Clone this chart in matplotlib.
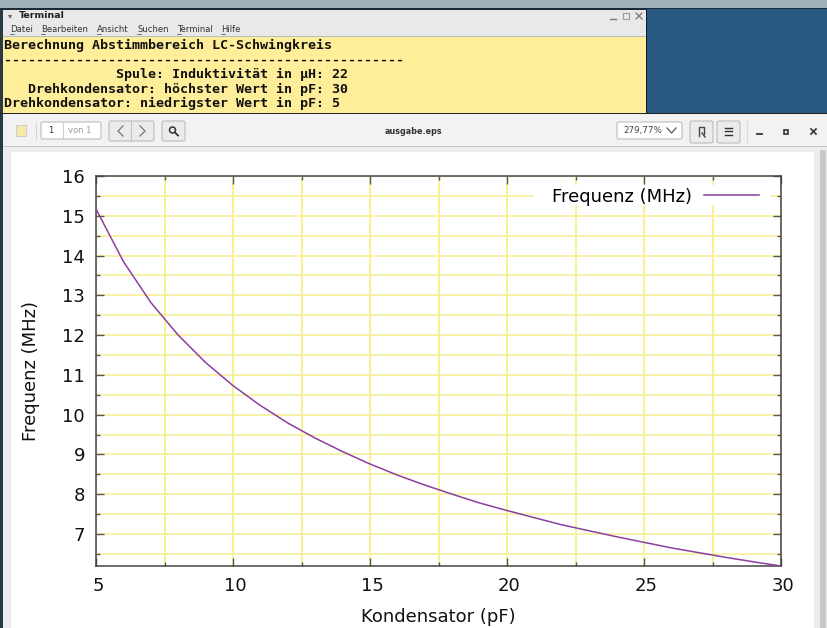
import matplotlib
matplotlib.use("Agg")
import matplotlib.pyplot as plt
from matplotlib.patches import Rectangle, FancyBboxPatch, Circle
from matplotlib.transforms import ScaledTranslation

# values
kondensator = [5, 6, 7, 8, 9, 10, 11, 12, 13, 14, 15, 16, 17, 18, 19, 20,
               21, 22, 23, 24, 25, 26, 27, 28, 29, 30]
frequenz = [15.17, 13.85, 12.82, 12.0, 11.31, 10.73, 10.23, 9.79, 9.41, 9.07,
            8.76, 8.48, 8.23, 8.0, 7.78, 7.59, 7.41, 7.23, 7.08, 6.93,
            6.79, 6.65, 6.53, 6.41, 6.3, 6.195]
x_ticks = [5, 10, 15, 20, 25, 30]
x_minor = [7.5, 12.5, 17.5, 22.5, 27.5]
y_ticks = [7, 8, 9, 10, 11, 12, 13, 14, 15, 16]
y_minor = [6.5, 7.5, 8.5, 9.5, 10.5, 11.5, 12.5, 13.5, 14.5, 15.5]
menu_names = ["Datei", "Bearbeiten", "Ansicht", "Suchen", "Terminal", "Hilfe"]
menu_x = [10, 41, 97, 137, 177, 221]
terminal_lines = ["Berechnung Abstimmbereich LC-Schwingkreis",
                  "-" * 50,
                  "              Spule: Induktivität in µH: 22",
                  "   Drehkondensator: höchster Wert in pF: 30",
                  "Drehkondensator: niedrigster Wert in pF: 5"]
terminal_y = [45, 60, 74, 89, 103]

fig = plt.figure(figsize=(8.27, 6.28), dpi=100)

# screenshot around the plot, in pixels
bg = fig.add_axes([0, 0, 1, 1], zorder=0)
bg.set_xlim(0, 827)
bg.set_ylim(628, 0)
bg.axis("off")


def box(x, y, w, h, fc, ec="none", lw=0.8):
    bg.add_patch(Rectangle((x, y), w, h, fc=fc, ec=ec, lw=lw))


def button(x, y, w, h, fc="#ebebeb"):
    bg.add_patch(FancyBboxPatch((x + 1, y + 1), w - 2, h - 2, boxstyle="round,pad=1,rounding_size=2",
                                fc=fc, ec="#bdbdbd", lw=0.8))


box(0, 0, 827, 9, "#a2b2bb")
box(0, 8, 827, 2, "#1c2a35")
box(647, 9, 180, 106, "#27587f")
box(0, 9, 3, 106, "#2a3a45")
box(3, 10, 644, 27, "#e9e9e9")
box(3, 36, 644, 1, "#bcbcbc")
box(3, 37, 643, 77, "#ffee99")
box(646, 9, 1, 105, "#101820")
box(0, 113, 827, 1, "#222222")

bg.text(8, 16, "▾", fontsize=6, color="#666666", va="center")
bg.text(19, 15.5, "Terminal", fontsize=6.8, color="#222222", va="center", fontweight="bold")
for name, mx in zip(menu_names, menu_x):
    bg.text(mx, 29.5, name, fontsize=6.1, color="#333333", va="center")
    bg.plot([mx, mx + 4], [34, 34], color="#444444", lw=0.5)
for line, ty in zip(terminal_lines, terminal_y):
    bg.text(4, ty, line, fontsize=9.6, family="DejaVu Sans Mono", fontweight="bold", color="#111111", va="center")
bg.plot([610, 616], [19, 19], color="#777777", lw=1)
bg.add_patch(Rectangle((623, 12.5), 6, 6, fc="none", ec="#999999", lw=0.8))
bg.plot([636, 642], [13, 19], color="#777777", lw=0.9)
bg.plot([636, 642], [19, 13], color="#777777", lw=0.9)

# document viewer
box(3, 114, 824, 33, "#f2f2f2")
box(3, 146, 824, 482, "#ececec")
box(3, 146, 824, 1, "#c4c4c4")
box(0, 114, 3, 514, "#2a3a45")
box(11, 152, 803, 476, "white")
box(820, 150, 6, 478, "#c9c9c9")

box(16, 125, 10, 11, "#f5e9a8", "#cfcfcf")
bg.plot([36, 36], [123, 139], color="#d4d4d4", lw=0.8)
button(41, 122, 60, 17, "white")
bg.plot([63, 63], [122, 139], color="#cfcfcf", lw=0.8)
bg.text(48, 130.5, "1", fontsize=6, color="#333333", va="center")
bg.text(68, 130.5, "von 1", fontsize=6, color="#9a9a9a", va="center")
button(109, 121, 45, 20)
bg.plot([131, 131], [121, 141], color="#c4c4c4", lw=0.8)
bg.plot([123, 118, 123], [126, 131, 136], color="#777777", lw=0.9)
bg.plot([140, 145, 140], [126, 131, 136], color="#777777", lw=0.9)
button(162, 121, 23, 20)
bg.add_patch(Circle((172.5, 130), 3, fc="none", ec="#333333", lw=1.1))
bg.plot([175, 178], [132.5, 135.5], color="#333333", lw=1.3)
bg.text(413, 131, "ausgabe.eps", fontsize=5.8, color="#333333", ha="center", va="center", fontweight="bold")
button(617, 122, 65, 17, "white")
bg.text(623, 130.5, "279,77%", fontsize=6.3, color="#444444", va="center")
bg.plot([667, 671.5, 676], [128, 133, 128], color="#555555", lw=0.9)
button(690, 121, 23, 22)
bg.plot([699, 699, 704, 704], [136, 127, 127, 134], color="#444444", lw=1)
bg.plot([702, 705], [133, 137], color="#444444", lw=1)
button(717, 121, 23, 22)
for ly in [127.5, 131, 134.5]:
    bg.plot([725, 732], [ly, ly], color="#333333", lw=1)
bg.plot([747, 747], [121, 143], color="#dcdcdc", lw=0.8)
bg.plot([757, 762], [133.5, 133.5], color="#333333", lw=1.3)
bg.add_patch(Rectangle((784, 129.5), 4, 4, fc="none", ec="#333333", lw=1.2))
bg.plot([811, 816], [129, 134], color="#333333", lw=1.2)
bg.plot([811, 816], [134, 129], color="#333333", lw=1.2)

# the gnuplot chart
ax = fig.add_axes([96 / 827, (628 - 566) / 628, 685 / 827, 390 / 628], zorder=1)
ax.plot(kondensator, frequenz, color="#8b3fa0", lw=1.1, label="Frequenz (MHz)", zorder=3)
ax.set_xlim(5, 30)
ax.set_ylim(6.195, 16)
ax.set_xticks(x_ticks)
ax.set_xticks(x_minor, minor=True)
ax.set_yticks(y_ticks)
ax.set_yticks(y_minor, minor=True)
ax.set_axisbelow(True)
ax.grid(True, which="both", axis="x", color="#f9ee70", lw=1.1)
ax.grid(True, which="both", axis="y", color="#f8f0a0", lw=1.3)
ax.tick_params(which="major", direction="in", length=5.8, width=1, color="#555555",
               top=True, right=True, labelsize=13, labelcolor="#111111", pad=8)
ax.tick_params(which="minor", direction="in", length=3, width=1, color="#555555", top=True, right=True)
for s in ax.spines.values():
    s.set_color("#444444")
    s.set_linewidth(1.1)
ax.set_xlabel("Kondensator (pF)", fontsize=13, labelpad=9, color="#111111")
ax.set_ylabel("Frequenz (MHz)", fontsize=13, labelpad=16, color="#111111")

# gnuplot sets its x labels a bit right of the tick
shift = ScaledTranslation(2 / 100, 0, fig.dpi_scale_trans)
for lab in ax.get_xticklabels():
    lab.set_transform(lab.get_transform() + shift)

# white block behind the key
ax.add_patch(Rectangle((534 / 827, (628 - 205) / 628), 236 / 827, 20 / 628, transform=fig.transFigure,
                       fc="white", ec="none", zorder=2))
leg = ax.legend(loc="upper right", bbox_to_anchor=(663 / 685, 1 - 11.5 / 390), frameon=False, fontsize=13,
                markerfirst=False, borderaxespad=0, borderpad=0, handlelength=3.05, handletextpad=0.66)
leg.set_zorder(4)

fig.savefig("out.png", dpi=100)
